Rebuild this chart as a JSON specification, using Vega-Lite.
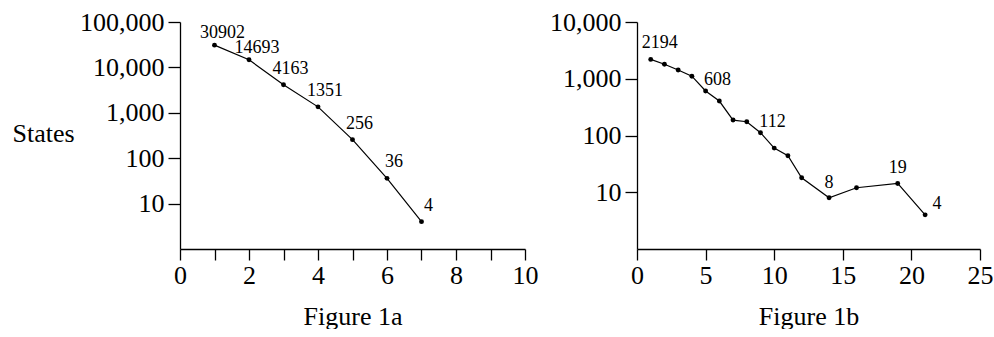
{
  "$schema": "https://vega.github.io/schema/vega-lite/v6.json",
  "padding": {"left": 12, "top": 9, "right": 0, "bottom": 0},
  "spacing": 11,
  "background": "white",
  "datasets": {
    "a": [
      {"n": 1, "states": 30902, "label": "30902", "grp": "hi"},
      {"n": 2, "states": 14693, "label": "14693", "grp": "hi"},
      {"n": 3, "states": 4163, "label": "4163", "grp": "lo"},
      {"n": 4, "states": 1351, "label": "1351", "grp": "lo"},
      {"n": 5, "states": 256, "label": "256", "grp": "lo"},
      {"n": 6, "states": 36, "label": "36", "grp": "lo"},
      {"n": 7, "states": 4, "label": "4", "grp": "lo"}
    ],
    "b": [
      {"n": 1, "states": 2194, "label": "2194", "grp": "A"},
      {"n": 2, "states": 1800, "label": "", "grp": ""},
      {"n": 3, "states": 1430, "label": "", "grp": ""},
      {"n": 4, "states": 1110, "label": "", "grp": ""},
      {"n": 5, "states": 608, "label": "608", "grp": "B"},
      {"n": 6, "states": 405, "label": "", "grp": ""},
      {"n": 7, "states": 187, "label": "", "grp": ""},
      {"n": 8, "states": 175, "label": "", "grp": ""},
      {"n": 9, "states": 112, "label": "112", "grp": "B"},
      {"n": 10, "states": 60, "label": "", "grp": ""},
      {"n": 11, "states": 44, "label": "", "grp": ""},
      {"n": 12, "states": 18, "label": "", "grp": ""},
      {"n": 14, "states": 8, "label": "8", "grp": "C"},
      {"n": 16, "states": 12, "label": "", "grp": ""},
      {"n": 19, "states": 14.3, "label": "19", "grp": "C"},
      {"n": 21, "states": 4, "label": "4", "grp": "B"}
    ]
  },
  "hconcat": [
    {
      "width": 345,
      "height": 227,
      "data": {"name": "a"},
      "encoding": {
        "x": {"field": "n", "type": "quantitative",
          "scale": {"domain": [0, 10], "nice": false, "zero": false},
          "axis": {"title": "Figure 1a", "values": [0,1,2,3,4,5,6,7,8,9,10],
            "labelExpr": "datum.value % 2 == 0 ? datum.label : ''"}},
        "y": {"field": "states", "type": "quantitative",
          "scale": {"type": "log", "domain": [1, 100000], "nice": false},
          "axis": {"title": "States", "values": [10, 100, 1000, 10000, 100000], "format": ",",
            "titleAngle": 0, "titleAlign": "left", "titleBaseline": "middle", "titleX": -168, "titleY": 111}}
      },
      "layer": [
        {"mark": {"type": "line", "color": "black", "strokeWidth": 1.2}},
        {"mark": {"type": "point", "filled": true, "color": "black", "size": 24, "opacity": 1}},
        {"transform": [{"filter": "datum.grp == 'hi'"}],
         "mark": {"type": "text", "align": "center", "baseline": "alphabetic", "dx": 8, "dy": -7, "fontSize": 18, "font": "Liberation Serif", "color": "black"},
         "encoding": {"text": {"field": "label"}}},
        {"transform": [{"filter": "datum.grp == 'lo'"}],
         "mark": {"type": "text", "align": "center", "baseline": "alphabetic", "dx": 7, "dy": -11, "fontSize": 18, "font": "Liberation Serif", "color": "black"},
         "encoding": {"text": {"field": "label"}}}
      ]
    },
    {
      "width": 343,
      "height": 227,
      "data": {"name": "b"},
      "encoding": {
        "x": {"field": "n", "type": "quantitative",
          "scale": {"domain": [0, 25], "nice": false, "zero": false},
          "axis": {"title": "Figure 1b", "values": [0, 5, 10, 15, 20, 25]}},
        "y": {"field": "states", "type": "quantitative",
          "scale": {"type": "log", "domain": [1, 10000], "nice": false},
          "axis": {"title": null, "values": [10, 100, 1000, 10000], "format": ","}}
      },
      "layer": [
        {"mark": {"type": "line", "color": "black", "strokeWidth": 1.2}},
        {"mark": {"type": "point", "filled": true, "color": "black", "size": 24, "opacity": 1}},
        {"transform": [{"filter": "datum.grp == 'A'"}],
         "mark": {"type": "text", "align": "center", "baseline": "alphabetic", "dx": 9, "dy": -11, "fontSize": 18, "font": "Liberation Serif", "color": "black"},
         "encoding": {"text": {"field": "label"}}},
        {"transform": [{"filter": "datum.grp == 'B'"}],
         "mark": {"type": "text", "align": "center", "baseline": "alphabetic", "dx": 12, "dy": -6, "fontSize": 18, "font": "Liberation Serif", "color": "black"},
         "encoding": {"text": {"field": "label"}}},
        {"transform": [{"filter": "datum.grp == 'C'"}],
         "mark": {"type": "text", "align": "center", "baseline": "alphabetic", "dx": 0, "dy": -10, "fontSize": 18, "font": "Liberation Serif", "color": "black"},
         "encoding": {"text": {"field": "label"}}}
      ]
    }
  ],
  "config": {
    "font": "Liberation Serif",
    "view": {"stroke": null},
    "axis": {
      "grid": false,
      "domainColor": "black", "domainWidth": 1.3,
      "tickColor": "black", "tickWidth": 1.3,
      "labelColor": "black", "labelFont": "Liberation Serif", "labelFontSize": 26,
      "titleColor": "black", "titleFont": "Liberation Serif", "titleFontSize": 26, "titleFontWeight": "normal"
    },
    "axisX": {"titlePadding": 15, "labelPadding": 2, "tickSize": 11, "labelFlush": false},
    "axisY": {"labelPadding": 4, "tickSize": 12, "labelFlush": false}
  }
}
